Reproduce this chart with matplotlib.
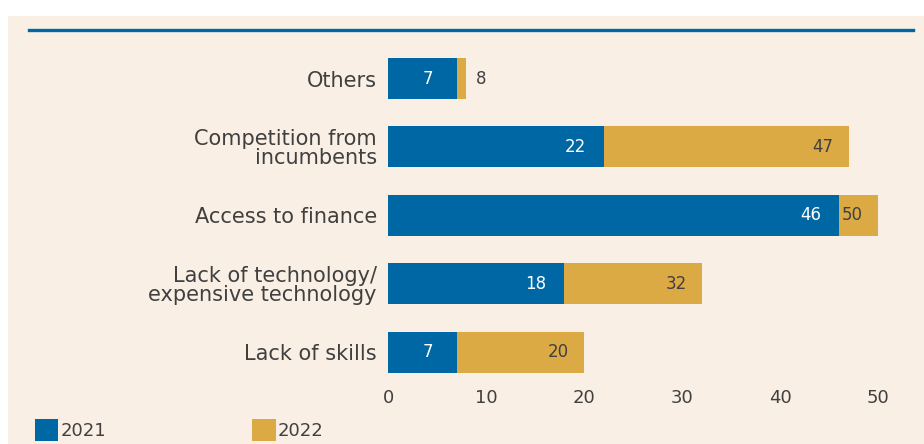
import numpy as np
import matplotlib.pyplot as plt
from matplotlib.patches import Rectangle, Patch
from matplotlib.lines import Line2D

# data
categories = ['Others', 'Competition from\nincumbents', 'Access to finance',
              'Lack of technology/\nexpensive technology', 'Lack of skills']
vals_2021 = [7, 22, 46, 18, 7]
vals_2022 = [8, 47, 50, 32, 20]
xticks = [0, 10, 20, 30, 40, 50]

BLUE = '#0067a5'
GOLD = '#dbaa45'
BG = '#f9efe4'
TXT = '#404040'

plt.rcParams['font.family'] = ['DejaVu Sans']

W, H = 924, 444
fig = plt.figure(figsize=(W / 100, H / 100), dpi=100, facecolor='white')

# beige panel + blue rule on top
fig.add_artist(Rectangle((8 / W, 0), 1 - 8 / W, 1 - 16 / H,
                         transform=fig.transFigure, facecolor=BG,
                         edgecolor='none', zorder=0))
fig.add_artist(Line2D([29 / W, 913 / W], [1 - 30 / H, 1 - 30 / H],
                      transform=fig.transFigure, color=BLUE, lw=2.4))

ax = fig.add_axes([388 / W, 1 - 379.4 / H, 509.6 / W, 341.9 / H])
ax.set_facecolor('none')

y = np.arange(len(categories))
ax.barh(y, vals_2022, height=0.6, color=GOLD, zorder=2)
ax.barh(y, vals_2021, height=0.6, color=BLUE, zorder=3)

for yi, a, b in zip(y, vals_2021, vals_2022):
    ax.text(a - 2.9, yi, str(a), ha='center', va='center', color='white',
            fontsize=12, zorder=4)
    if b - a < 4:
        ax.text(b + 1.5, yi, str(b), ha='center', va='center', color=TXT,
                fontsize=12, zorder=4)
    else:
        ax.text(b - 2.6, yi, str(b), ha='center', va='center', color=TXT,
                fontsize=12, zorder=4)

ax.set_xlim(0, 52)
ax.set_ylim(4.4, -0.6)
ax.set_yticks(y)
ax.set_yticklabels(categories, fontsize=15, color=TXT, linespacing=0.95)
ax.set_xticks(xticks)
ax.set_xticklabels([str(t) for t in xticks], fontsize=13, color=TXT)
ax.tick_params(axis='both', length=0)
ax.tick_params(axis='y', pad=8)
ax.tick_params(axis='x', pad=7)
for s in ax.spines.values():
    s.set_visible(False)

handles = [Patch(facecolor=BLUE, label='2021'), Patch(facecolor=GOLD, label='2022')]
fig.legend(handles=handles, loc='lower left', ncol=2, frameon=False,
           bbox_to_anchor=(35 / W, 3 / H), borderpad=0, borderaxespad=0,
           fontsize=13, handlelength=1.3, handleheight=1.5, handletextpad=0.1,
           columnspacing=8.1, labelcolor=TXT)

fig.savefig('out.png', dpi=100, facecolor='white')
